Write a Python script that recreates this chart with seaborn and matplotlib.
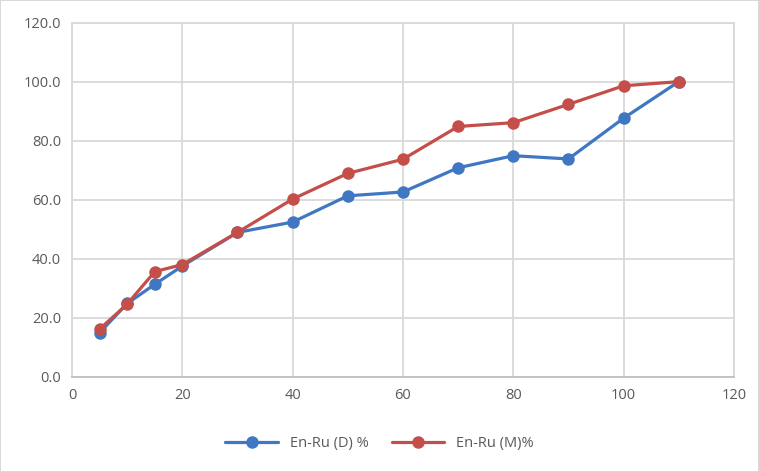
import pandas as pd
import matplotlib
matplotlib.use('Agg')
import matplotlib.pyplot as plt
import seaborn as sns

# Datos
x_vals = [5, 10, 15, 20, 30, 40, 50, 60, 70, 80, 90, 100, 110]
en_ru_d = [14.9, 24.8, 31.3, 37.5, 48.9, 52.4, 61.3, 62.6, 70.8, 74.9, 73.8, 87.6, 100.0]
en_ru_m = [16.1, 24.6, 35.6, 38.0, 48.9, 60.2, 68.9, 73.7, 84.8, 86.1, 92.3, 98.6, 100.0]
series_names = ['En-Ru (D) %', 'En-Ru (M)%']
colores = ['#3F77C2', '#C44E4A']

data = pd.DataFrame({'x': x_vals, series_names[0]: en_ru_d, series_names[1]: en_ru_m})
data_long = data.melt(id_vars='x', var_name='serie', value_name='valor')

sns.set_style('white')
plt.rcParams['font.family'] = ['Open Sans', 'DejaVu Sans']

fig = plt.figure(figsize=(7.59, 4.72), dpi=100, edgecolor='#d9d9d9', linewidth=1.2)
ax = fig.add_axes([0.0949, 0.202, 0.872, 0.750])

sns.lineplot(data=data_long, x='x', y='valor', hue='serie', hue_order=series_names,
             palette=colores, marker='o', markersize=9, markeredgewidth=0,
             linewidth=2.3, ax=ax, sort=False)

ax.set_xlim(0, 120)
ax.set_ylim(0, 120)
ax.set_xticks(range(0, 121, 20))
ax.set_yticks(range(0, 121, 20))
ax.set_yticklabels([f'{v:.1f}' for v in range(0, 121, 20)])
ax.grid(True, color='#d9d9d9', linewidth=1.3)
ax.set_axisbelow(True)
for s in ax.spines.values():
    s.set_color('#d9d9d9')
    s.set_linewidth(1.3)
ax.spines['bottom'].set_color('#bfbfbf')
ax.tick_params(axis='both', length=0, labelsize=10.5, labelcolor='#595959', pad=8)
ax.set_xlabel('')
ax.set_ylabel('')

handles, labels = ax.get_legend_handles_labels()
ax.get_legend().remove()
fig.legend(handles, labels, loc='center', bbox_to_anchor=(0.5, 0.061), ncol=2, frameon=False,
           fontsize=10.5, handlelength=3.6, columnspacing=1.6, labelcolor='#595959')

plt.savefig('out.png', dpi=100, edgecolor=fig.get_edgecolor())
